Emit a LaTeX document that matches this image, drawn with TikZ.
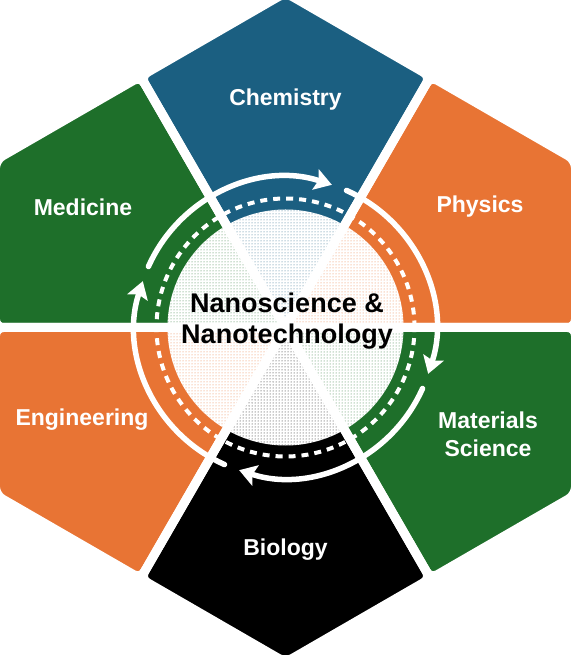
\documentclass[tikz,border=0pt]{standalone}
\usepackage{fontspec}
\setmainfont{Liberation Sans}
\usetikzlibrary{arrows.meta,patterns}

\definecolor{chemblue}{RGB}{27,95,129}
\definecolor{fieldorange}{RGB}{232,116,52}
\definecolor{fieldgreen}{RGB}{30,111,42}

\begin{document}
\begin{tikzpicture}[x=1pt,y=1pt,
        fieldtext/.style={text=white,font=\bfseries\fontsize{23}{28}\selectfont,align=center},
        coretext/.style={text=black,font=\bfseries\fontsize{27}{31}\selectfont,align=center},
        gap/.style={draw=white,line width=9pt,rounded corners=8pt},
        cycle arrow/.style={white,line width=5.5pt,line cap=round,
            -{Stealth[length=17pt,width=21pt,inset=3pt]}}]

\useasboundingbox (-285.5,-327.5) rectangle (285.5,327.5);

% the six fields
\foreach \a/\c in {90/chemblue,30/fieldorange,-30/fieldgreen,-90/black,210/fieldorange,150/fieldgreen}
    \fill[\c,rounded corners=8pt] (0,0) -- (\a-30:290) -- (\a:334.9) -- (\a+30:290) -- cycle;

% dotted core
\fill[white] (0,0) circle[radius=118pt];
\begin{scope}
\clip (0,0) circle[radius=118pt];
\foreach \a/\c in {90/chemblue,30/fieldorange,-30/fieldgreen,-90/black,210/fieldorange,150/fieldgreen}
    \fill[pattern=dots,pattern color=\c!90] (0,0) -- (\a-30:290) -- (\a:334.9) -- (\a+30:290) -- cycle;
\end{scope}

% white gaps between fields
\foreach \a in {90,30,-30,-90,210,150}
    \draw[gap] (0,0) -- (\a-30:290) -- (\a:334.9) -- (\a+30:290) -- cycle;

% dashed ring and cycle arrows
\draw[white,line width=4pt,dash pattern=on 7pt off 6pt] (0,0) circle[radius=129pt];
\foreach \s in {156,66,-24,-114}
    \draw[cycle arrow] (\s:150) arc[start angle=\s,end angle=\s-84,radius=150pt];

\node[fieldtext] (chemistry) at (0,227.5) {Chemistry};
\node[fieldtext] (physics) at (194.5,120.5) {Physics};
\node[fieldtext] (materials) at (202.5,-106.5) {Materials\\Science};
\node[fieldtext] (biology) at (0,-222.5) {Biology};
\node[fieldtext] (engineering) at (-203.5,-92.5) {Engineering};
\node[fieldtext] (medicine) at (-202.5,120.5) {Medicine};
\node[coretext] (core) at (1.5,6) {Nanoscience \&\\Nanotechnology};
\end{tikzpicture}
\end{document}
